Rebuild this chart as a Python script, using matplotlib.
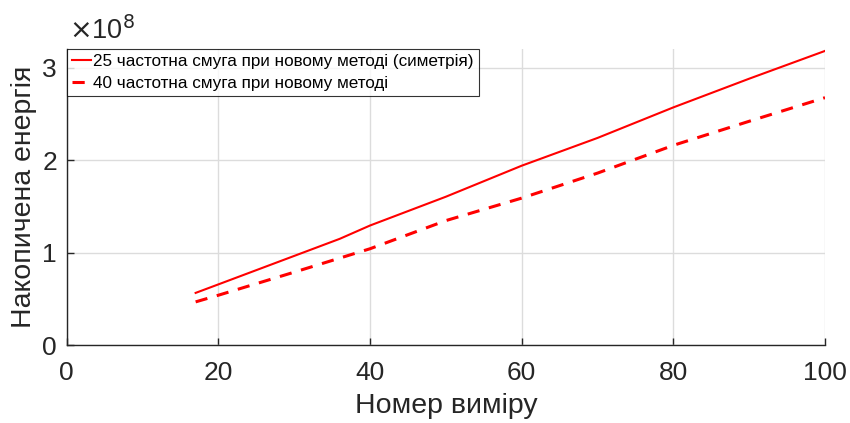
import matplotlib
matplotlib.use("Agg")
import matplotlib.pyplot as plt

# Data (values in units of 1e8)
x_solid = [17, 20, 36, 40, 50, 60, 70, 80, 90, 100]
solid_vals = [0.566, 0.658, 1.15, 1.294, 1.605, 1.94, 2.24, 2.57, 2.88, 3.18]
x_dashed = [17, 20, 30, 40, 50, 60, 70, 80, 90, 100]
dashed_vals = [0.469, 0.541, 0.79, 1.043, 1.347, 1.59, 1.86, 2.16, 2.42, 2.675]
label_solid = "25 частотна смуга при новому методі (симетрія)"
label_dashed = "40 частотна смуга при новому методі"
x_ticks = [0, 20, 40, 60, 80, 100]
y_ticks = [0, 1, 2, 3]
x_label = "Номер виміру"
y_label = "Накопичена енергія"

plt.rcParams['font.family'] = ['Liberation Sans', 'DejaVu Sans']
txt = '#262626'

fig = plt.figure(figsize=(8.5, 4.23), dpi=100)
ax = fig.add_axes([0.0785, 0.1837, 0.8921, 0.7003])

ax.plot(x_solid, solid_vals, color='#ff0000', lw=1.5, label=label_solid)
ax.plot(x_dashed, dashed_vals, color='#ff0000', lw=2.2, ls=(0, (4.0, 3.2)), label=label_dashed)

ax.set_xlim(0, 100)
ax.set_ylim(0, 3.2)
ax.set_xticks(x_ticks)
ax.set_yticks(y_ticks)
ax.set_xticklabels([str(v) for v in x_ticks])
ax.set_yticklabels([str(v) for v in y_ticks])
ax.grid(True, color='#dcdcdc', lw=1.0)
ax.set_axisbelow(True)
for s in ['top', 'right']:
    ax.spines[s].set_visible(False)
for s in ['left', 'bottom']:
    ax.spines[s].set_color(txt)
    ax.spines[s].set_linewidth(1.0)
ax.tick_params(direction='in', length=5, width=1.0, colors=txt, labelsize=19)
ax.tick_params(axis='x', pad=11)
ax.tick_params(axis='y', pad=7)

ax.set_xlabel(x_label, fontsize=20.5, color=txt, labelpad=6)
ax.set_ylabel(y_label, fontsize=20.5, color=txt, labelpad=4)

ax.text(0.003, 1.015, r"$\times$10$^{8}$", transform=ax.transAxes, fontsize=19.5,
        color=txt, ha='left', va='bottom')

leg = ax.legend(loc='upper left', bbox_to_anchor=(0, 1), borderaxespad=0,
                fontsize=12.3, frameon=True, fancybox=False, handlelength=1.1,
                handletextpad=0.15, borderpad=0.3, labelspacing=0.4)
leg.get_frame().set_edgecolor('#000000')
leg.get_frame().set_linewidth(0.8)
for t in leg.get_texts():
    t.set_color('#000000')

fig.savefig("out.png", dpi=100)
